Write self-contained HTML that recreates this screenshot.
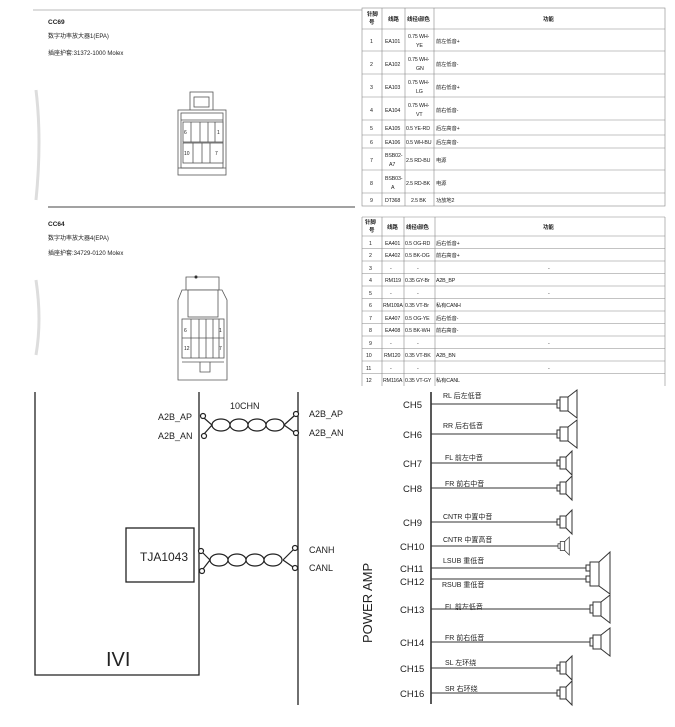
<!DOCTYPE html>
<html><head><meta charset="utf-8"><style>
html,body{margin:0;padding:0;background:#fff;}
svg{display:block;}
text{font-family:"Liberation Sans","Noto Sans CJK SC",sans-serif;fill:#222;}
.t text{font-size:5.3px;letter-spacing:-0.15px;}
.t .h{font-size:5.5px;font-weight:bold;}
</style></head><body>
<svg width="675" height="727" viewBox="0 0 675 727" xmlns="http://www.w3.org/2000/svg">
<defs>
<symbol id="spS" overflow="visible"><rect x="0" y="-3" width="3" height="6" fill="#fff" stroke="#333" stroke-width="1"/><rect x="3" y="-6" width="6" height="12" fill="#fff" stroke="#333" stroke-width="1"/><polygon points="9,-6 15,-12 15,12 9,6" fill="#fff" stroke="#333" stroke-width="1"/></symbol>
<symbol id="spL" overflow="visible"><rect x="0" y="-4" width="3" height="8" fill="#fff" stroke="#333" stroke-width="1"/><rect x="3" y="-7" width="8" height="14" fill="#fff" stroke="#333" stroke-width="1"/><polygon points="11,-7 20,-14 20,14 11,7" fill="#fff" stroke="#333" stroke-width="1"/></symbol>
</defs>
<line x1="33" y1="10" x2="362" y2="10" stroke="#ddd" stroke-width="2"/>
<path d="M36 90 Q42 140 36 200" stroke="#ddd" stroke-width="3" fill="none"/>
<path d="M36 280 Q42 320 36 355" stroke="#ddd" stroke-width="3" fill="none"/>
<text x="48" y="24" style="font-size:6.5px;font-weight:bold">CC69</text>
<text x="48" y="38" style="font-size:6px">数字功率放大器1(EPA)</text>
<text x="48" y="55" style="font-size:6px">插座护套:31372-1000 Molex</text>
<line x1="48" y1="207" x2="355" y2="207" stroke="#444" stroke-width="1"/>
<text x="48" y="226" style="font-size:6.5px;font-weight:bold">CC64</text>
<text x="48" y="240" style="font-size:6px">数字功率放大器4(EPA)</text>
<text x="48" y="255" style="font-size:6px">插座护套:34729-0120 Molex</text>
<g stroke="#555" stroke-width="0.8" fill="#fff">
<rect x="190" y="92" width="23" height="21"/><rect x="194" y="97" width="15" height="10"/>
<rect x="178" y="110" width="48" height="65"/>
<rect x="181" y="113" width="42" height="55"/>
<line x1="181" y1="120" x2="223" y2="120"/>
<rect x="183" y="122" width="40" height="20"/><rect x="183" y="143" width="40" height="20"/>
<line x1="191" y1="122" x2="191" y2="142"/><line x1="200" y1="122" x2="200" y2="142"/><line x1="208" y1="122" x2="208" y2="142"/><line x1="215" y1="122" x2="215" y2="142"/>
<line x1="193" y1="143" x2="193" y2="163"/><line x1="202" y1="143" x2="202" y2="163"/><line x1="210" y1="143" x2="210" y2="163"/>
<line x1="178" y1="168" x2="226" y2="168"/>
</g>
<text x="184" y="134" style="font-size:5px">6</text><text x="217" y="134" style="font-size:5px">1</text>
<text x="184" y="155" style="font-size:5px">10</text><text x="215" y="155" style="font-size:5px">7</text>
<g stroke="#555" stroke-width="0.8" fill="#fff">
<path d="M186 290 L186 277 L219 277 L219 290" /><circle cx="196" cy="277" r="1.2" fill="#000"/>
<path d="M178 300 L182 290 L222 290 L227 300 L227 380 L178 380 Z"/>
<rect x="188" y="290" width="30" height="27"/>
<rect x="182" y="319" width="42" height="39"/>
<line x1="182" y1="338" x2="224" y2="338"/>
<line x1="191" y1="319" x2="191" y2="358"/><line x1="199" y1="319" x2="199" y2="358"/><line x1="206" y1="319" x2="206" y2="358"/><line x1="213" y1="319" x2="213" y2="358"/><line x1="219" y1="319" x2="219" y2="358"/>
<path d="M182 362 L224 362 M200 362 L200 372 L210 372 L210 362"/>
</g>
<text x="184" y="332" style="font-size:5px">6</text><text x="219" y="332" style="font-size:5px">1</text>
<text x="184" y="350" style="font-size:5px">12</text><text x="219" y="350" style="font-size:5px">7</text>
<g stroke="#888" stroke-width="0.6" fill="none">
<rect x="362" y="8" width="303" height="198"/>
<line x1="382" y1="8" x2="382" y2="206"/><line x1="405" y1="8" x2="405" y2="206"/><line x1="434" y1="8" x2="434" y2="206"/>
<path d="M362 29H665M362 51H665M362 74H665M362 97H665M362 120H665M362 135H665M362 148H665M362 170H665M362 193H665"/>
</g>
<g class="t">
<text x="367" y="16" class="h">针脚</text><text x="369" y="24" class="h">号</text>
<text x="388" y="21" class="h">线路</text><text x="407" y="21" class="h">线径/颜色</text><text x="543" y="21" class="h">功能</text>
<text x="370" y="43">1</text><text x="385" y="43">EA101</text><text x="408" y="38">0.75 WH-</text><text x="416" y="47">YE</text><text x="436" y="43">前左低音+</text>
<text x="370" y="66">2</text><text x="385" y="66">EA102</text><text x="408" y="61">0.75 WH-</text><text x="416" y="70">GN</text><text x="436" y="66">前左低音-</text>
<text x="370" y="89">3</text><text x="385" y="89">EA103</text><text x="408" y="84">0.75 WH-</text><text x="416" y="93">LG</text><text x="436" y="89">前右低音+</text>
<text x="370" y="112">4</text><text x="385" y="112">EA104</text><text x="408" y="107">0.75 WH-</text><text x="416" y="116">VT</text><text x="436" y="112">前右低音-</text>
<text x="370" y="130">5</text><text x="385" y="130">EA105</text><text x="406" y="130">0.5 YE-RD</text><text x="436" y="130">后左高音+</text>
<text x="370" y="144">6</text><text x="385" y="144">EA106</text><text x="406" y="144">0.5 WH-BU</text><text x="436" y="144">后左高音-</text>
<text x="370" y="162">7</text><text x="385" y="157">BSB02-</text><text x="389" y="166">A7</text><text x="406" y="162">2.5 RD-BU</text><text x="436" y="162">电源</text>
<text x="370" y="185">8</text><text x="385" y="180">BSB03-</text><text x="391" y="189">A</text><text x="406" y="185">2.5 RD-BK</text><text x="436" y="185">电源</text>
<text x="370" y="202">9</text><text x="385" y="202">DT368</text><text x="411" y="202">2.5 BK</text><text x="436" y="202">功放地2</text>
</g>
<g stroke="#888" stroke-width="0.6" fill="none">
<path d="M362 217H665M362 236H665M362 248.5H665M362 261H665M362 273.5H665M362 286H665M362 298.5H665M362 311H665M362 323.5H665M362 336H665M362 348.5H665M362 361H665M362 373.5H665"/>
<line x1="362" y1="217" x2="362" y2="386"/><line x1="382" y1="217" x2="382" y2="386"/><line x1="404" y1="217" x2="404" y2="386"/><line x1="435" y1="217" x2="435" y2="386"/><line x1="665" y1="217" x2="665" y2="386"/>
</g>
<g class="t">
<text x="365" y="224" class="h">针脚</text><text x="369" y="232" class="h">号</text>
<text x="387" y="229" class="h">线路</text><text x="406" y="229" class="h">线径/颜色</text><text x="543" y="229" class="h">功能</text>
<text x="369" y="245">1</text><text x="385" y="245">EA401</text><text x="405" y="245">0.5 OG-RD</text><text x="436" y="245">后右低音+</text>
<text x="369" y="257">2</text><text x="385" y="257">EA402</text><text x="405" y="257">0.5 BK-OG</text><text x="436" y="257">前右高音+</text>
<text x="369" y="270">3</text><text x="390" y="270">-</text><text x="417" y="270">-</text><text x="548" y="270">-</text>
<text x="369" y="282">4</text><text x="385" y="282">RM119</text><text x="405" y="282">0.35 GY-Br</text><text x="436" y="282">A2B_BP</text>
<text x="369" y="295">5</text><text x="390" y="295">-</text><text x="417" y="295">-</text><text x="548" y="295">-</text>
<text x="369" y="307">6</text><text x="383" y="307">RM109A</text><text x="405" y="307">0.35 VT-Br</text><text x="436" y="307">私有CANH</text>
<text x="369" y="320">7</text><text x="385" y="320">EA407</text><text x="405" y="320">0.5 OG-YE</text><text x="436" y="320">后右低音-</text>
<text x="369" y="332">8</text><text x="385" y="332">EA408</text><text x="405" y="332">0.5 BK-WH</text><text x="436" y="332">前右高音-</text>
<text x="369" y="345">9</text><text x="390" y="345">-</text><text x="417" y="345">-</text><text x="548" y="345">-</text>
<text x="366" y="357">10</text><text x="384" y="357">RM120</text><text x="405" y="357">0.35 VT-BK</text><text x="436" y="357">A2B_BN</text>
<text x="366" y="370">11</text><text x="390" y="370">-</text><text x="417" y="370">-</text><text x="548" y="370">-</text>
<text x="366" y="382">12</text><text x="383" y="382">RM116A</text><text x="405" y="382">0.35 VT-GY</text><text x="436" y="382">私有CANL</text>
</g>
<g stroke="#222" stroke-width="1.3" fill="none">
<path d="M35 392 V675 H199 V392"/>
<line x1="298" y1="392" x2="298" y2="705"/>
<rect x="126" y="528" width="68" height="54"/>
</g>
<text x="140" y="561" style="font-size:12px">TJA1043</text>
<text x="106" y="666" style="font-size:20px">IVI</text>
<text x="230" y="409" style="font-size:9px">10CHN</text>
<text x="158" y="420" style="font-size:9px">A2B_AP</text>
<text x="158" y="439" style="font-size:9px">A2B_AN</text>
<text x="309" y="417" style="font-size:9px">A2B_AP</text>
<text x="309" y="436" style="font-size:9px">A2B_AN</text>
<text x="309" y="553" style="font-size:9px">CANH</text>
<text x="309" y="571" style="font-size:9px">CANL</text>
<g stroke="#222" stroke-width="1.2" fill="none">
<path d="M204 418 L212 425 L204 434 M284 425 L294 416 M284 425 L294 432"/>
<ellipse cx="221" cy="425" rx="9" ry="6"/><ellipse cx="239" cy="425" rx="9" ry="6"/><ellipse cx="257" cy="425" rx="9" ry="6"/><ellipse cx="275" cy="425" rx="9" ry="6"/>
<circle cx="203" cy="416" r="2.5" fill="#fff"/><circle cx="204" cy="436" r="2.5" fill="#fff"/>
<circle cx="296" cy="414" r="2.5" fill="#fff"/><circle cx="296" cy="433" r="2.5" fill="#fff"/>
<path d="M203 553 L210 560 L203 569 M283 560 L293 550 M283 560 L293 567"/>
<ellipse cx="219" cy="560" rx="9" ry="6"/><ellipse cx="237" cy="560" rx="9" ry="6"/><ellipse cx="255" cy="560" rx="9" ry="6"/><ellipse cx="273" cy="560" rx="9" ry="6"/>
<circle cx="201" cy="551" r="2.5" fill="#fff"/><circle cx="202" cy="571" r="2.5" fill="#fff"/>
<circle cx="295" cy="548" r="2.5" fill="#fff"/><circle cx="295" cy="568" r="2.5" fill="#fff"/>
</g>
<line x1="431" y1="392" x2="431" y2="704" stroke="#222" stroke-width="1.5"/>
<text transform="translate(372,643) rotate(-90)" style="font-size:13px">POWER AMP</text>
<g style="font-size:9.5px">
<text x="403" y="408">CH5</text><text x="403" y="438">CH6</text><text x="403" y="467">CH7</text><text x="403" y="492">CH8</text>
<text x="403" y="526">CH9</text><text x="400" y="550">CH10</text><text x="400" y="572">CH11</text><text x="400" y="585">CH12</text>
<text x="400" y="613">CH13</text><text x="400" y="646">CH14</text><text x="400" y="672">CH15</text><text x="400" y="697">CH16</text>
</g>
<g style="font-size:7px">
<text x="443" y="398">RL 后左低音</text><text x="443" y="428">RR 后右低音</text><text x="445" y="460">FL 前左中音</text><text x="445" y="486">FR 前右中音</text>
<text x="443" y="519">CNTR 中置中音</text><text x="443" y="542">CNTR 中置高音</text><text x="443" y="563">LSUB 重低音</text><text x="442" y="587">RSUB 重低音</text>
<text x="445" y="609">FL 前左低音</text><text x="445" y="640">FR 前右低音</text><text x="445" y="665">SL 左环绕</text><text x="445" y="691">SR 右环绕</text>
</g>
<g stroke="#333" stroke-width="1">
<line x1="431" y1="404" x2="557" y2="404"/><line x1="431" y1="434" x2="557" y2="434"/>
<line x1="431" y1="463" x2="557" y2="463"/><line x1="431" y1="488" x2="557" y2="488"/>
<line x1="431" y1="522" x2="557" y2="522"/><line x1="431" y1="546" x2="558" y2="546"/>
<line x1="431" y1="568" x2="586" y2="568"/><line x1="431" y1="579" x2="586" y2="579"/>
<line x1="431" y1="609" x2="590" y2="609"/><line x1="431" y1="642" x2="590" y2="642"/>
<line x1="431" y1="668" x2="557" y2="668"/><line x1="431" y1="693" x2="557" y2="693"/>
</g>
<use href="#spL" x="557" y="404"/><use href="#spL" x="557" y="434"/>
<use href="#spS" x="557" y="463"/><use href="#spS" x="557" y="488"/>
<use href="#spS" x="557" y="522"/>
<g transform="translate(558,546) scale(0.75)"><use href="#spS"/></g>
<use href="#spS" x="557" y="668"/><use href="#spS" x="557" y="693"/>
<use href="#spL" x="590" y="609"/><use href="#spL" x="590" y="642"/>
<g stroke="#333" stroke-width="1" fill="#fff">
<rect x="586" y="565" width="4" height="6"/><rect x="586" y="576" width="4" height="6"/>
<rect x="590" y="562" width="9" height="24"/>
<polygon points="599,562 610,552 610,594 599,586"/>
</g>
</svg>
</body></html>
